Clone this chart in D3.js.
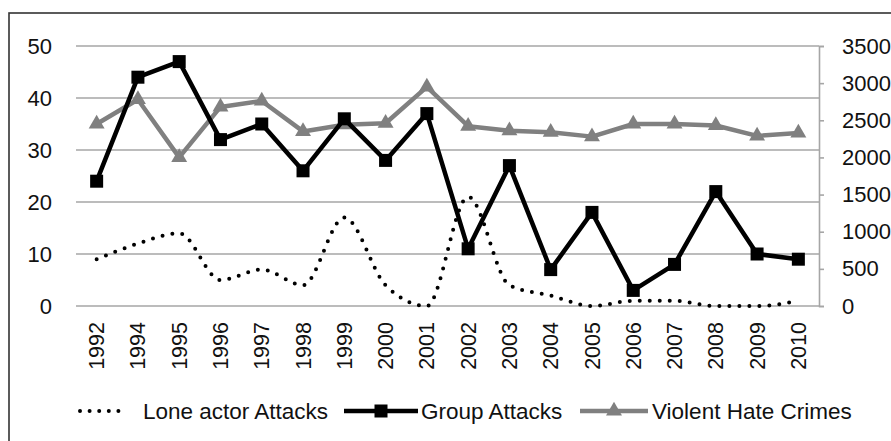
<!DOCTYPE html>
<html lang="en">
<head>
<meta charset="UTF-8" />
<script src="https://d3js.org/d3.v7.min.js"></script>
<style>
  body { margin: 0; background: #fff; }
  text { font-family: "Liberation Sans", Arial, sans-serif; fill: #111; }
</style>
</head>
<body>
<script>
    const width = 891, height = 441

    // data
    const years = ['1992', '1994', '1995', '1996', '1997', '1998', '1999', '2000', '2001',
        '2002', '2003', '2004', '2005', '2006', '2007', '2008', '2009', '2010']
    const loneActor = [9, 12, 14, 5, 7, 4, 17, 4, 0, 21, 4, 2, 0, 1, 1, 0, 0, 1]
    const groupAttacks = [24, 44, 47, 32, 35, 26, 36, 28, 37, 11, 27, 7, 18, 3, 8, 22, 10, 9]
    const hateCrimes = [2450, 2780, 2000, 2680, 2760, 2350, 2440, 2460, 2950, 2420,
        2360, 2340, 2280, 2450, 2450, 2430, 2290, 2330]
    const leftTicks = [0, 10, 20, 30, 40, 50]
    const rightTicks = [0, 500, 1000, 1500, 2000, 2500, 3000, 3500]

    const plot = { left: 76, right: 819, top: 46, bottom: 306 }

    const svg = d3.select('body').append('svg').attr('width', width).attr('height', height)

    // outer frame
    svg.append('rect')
        .attr('x', 9).attr('y', 13).attr('width', width + 10).attr('height', height + 10)
        .attr('fill', 'none').attr('stroke', '#333').attr('stroke-width', 1.6)

    const x = d3.scaleBand().domain(years).range([plot.left, plot.right])
    const cx = d => x(d) + x.bandwidth() / 2
    const yL = d3.scaleLinear().domain([0, 50]).range([plot.bottom, plot.top])
    const yR = d3.scaleLinear().domain([0, 3500]).range([plot.bottom, plot.top])

    // gridlines
    svg.append('g').selectAll('line').data(leftTicks).enter().append('line')
        .attr('x1', plot.left).attr('x2', plot.right)
        .attr('y1', d => yL(d)).attr('y2', d => yL(d))
        .attr('stroke', '#a6a6a6').attr('stroke-width', 1.6)

    // left axis labels
    const leftAxis = d3.axisLeft(yL).tickValues(leftTicks).tickSize(0).tickPadding(24)
    const gl = svg.append('g').attr('transform', `translate(${plot.left},0)`).call(leftAxis)
    gl.select('.domain').remove()
    gl.selectAll('text').style('font-size', '22px')

    // right axis
    const rightAxis = d3.axisRight(yR).tickValues(rightTicks).tickFormat(d3.format('d'))
        .tickSize(5).tickPadding(18)
    const gr = svg.append('g').attr('transform', `translate(${plot.right},0)`).call(rightAxis)
    gr.select('.domain').attr('stroke', '#a6a6a6').attr('stroke-width', 1.6)
    gr.selectAll('line').attr('stroke', '#a6a6a6').attr('stroke-width', 1.6)
    gr.selectAll('text').style('font-size', '22px')

    // x labels, rotated
    const xAxis = d3.axisBottom(x).tickSize(0)
    const gx = svg.append('g').attr('transform', `translate(0,${plot.bottom})`).call(xAxis)
    gx.select('.domain').remove()
    gx.selectAll('text')
        .style('font-size', '21.5px')
        .attr('text-anchor', 'end')
        .attr('transform', 'rotate(-90)')
        .attr('x', -16).attr('y', 0).attr('dy', '0.35em')

    // lone actor: smoothed dotted line
    const loneLine = d3.line().x((d, i) => cx(years[i])).y(d => yL(d)).curve(d3.curveMonotoneX)
    svg.append('path').datum(loneActor)
        .attr('d', loneLine).attr('fill', 'none')
        .attr('stroke', '#000').attr('stroke-width', 4)
        .attr('stroke-linecap', 'round').attr('stroke-dasharray', '0 10')

    // violent hate crimes (right axis)
    const hateLine = d3.line().x((d, i) => cx(years[i])).y(d => yR(d))
    svg.append('path').datum(hateCrimes)
        .attr('d', hateLine).attr('fill', 'none')
        .attr('stroke', '#808080').attr('stroke-width', 4.5).attr('stroke-linejoin', 'round')
    const tri = d3.symbol().type(d3.symbolTriangle).size(110)
    svg.append('g').selectAll('path').data(hateCrimes).enter().append('path')
        .attr('d', tri)
        .attr('transform', (d, i) => `translate(${cx(years[i])},${yR(d)})`)
        .attr('fill', '#808080')

    // group attacks
    const groupLine = d3.line().x((d, i) => cx(years[i])).y(d => yL(d))
    svg.append('path').datum(groupAttacks)
        .attr('d', groupLine).attr('fill', 'none')
        .attr('stroke', '#000').attr('stroke-width', 4.5).attr('stroke-linejoin', 'round')
    svg.append('g').selectAll('rect').data(groupAttacks).enter().append('rect')
        .attr('x', (d, i) => cx(years[i]) - 6.5).attr('y', d => yL(d) - 6.5)
        .attr('width', 13).attr('height', 13).attr('fill', '#000')

    // legend
    const ly = 411
    const legend = svg.append('g')
    legend.append('line').attr('x1', 80).attr('x2', 128).attr('y1', ly).attr('y2', ly)
        .attr('stroke', '#000').attr('stroke-width', 4)
        .attr('stroke-linecap', 'round').attr('stroke-dasharray', '0 9.6')
    legend.append('text').attr('x', 143).attr('y', ly).attr('dy', '0.35em')
        .style('font-size', '22.5px').text('Lone actor Attacks')

    legend.append('line').attr('x1', 344).attr('x2', 418).attr('y1', ly).attr('y2', ly)
        .attr('stroke', '#000').attr('stroke-width', 4.5)
    legend.append('rect').attr('x', 374.5).attr('y', ly - 6.5).attr('width', 13).attr('height', 13)
        .attr('fill', '#000')
    legend.append('text').attr('x', 421).attr('y', ly).attr('dy', '0.35em')
        .style('font-size', '22.5px').text('Group Attacks')

    legend.append('line').attr('x1', 580).attr('x2', 648).attr('y1', ly).attr('y2', ly)
        .attr('stroke', '#808080').attr('stroke-width', 4.5)
    legend.append('path').attr('d', tri).attr('transform', `translate(614,${ly})`).attr('fill', '#808080')
    legend.append('text').attr('x', 652).attr('y', ly).attr('dy', '0.35em')
        .style('font-size', '22.5px').text('Violent Hate Crimes')
</script>
</body>
</html>
